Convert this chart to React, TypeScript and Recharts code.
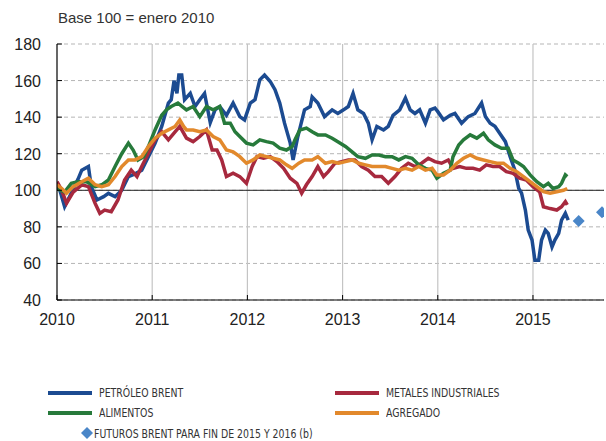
import React from 'react';
import { ComposedChart, Line, Scatter, XAxis, YAxis, CartesianGrid, ReferenceLine } from 'recharts';

// ---- Data (fractional years, index base 100 = Jan 2010) ----
const brentYears = [2010.0,2010.03,2010.08,2010.15,2010.22,2010.26,2010.33,2010.36,2010.42,2010.49,2010.54,2010.61,2010.68,2010.75,2010.82,2010.89,2010.96,2011.03,2011.1,2011.17,2011.2,2011.23,2011.26,2011.28,2011.31,2011.34,2011.4,2011.45,2011.5,2011.55,2011.61,2011.66,2011.71,2011.78,2011.85,2011.92,2011.97,2012.03,2012.08,2012.13,2012.18,2012.24,2012.29,2012.34,2012.39,2012.45,2012.48,2012.53,2012.6,2012.66,2012.68,2012.74,2012.81,2012.89,2012.95,2013.01,2013.06,2013.11,2013.16,2013.22,2013.27,2013.31,2013.36,2013.43,2013.48,2013.53,2013.6,2013.66,2013.71,2013.76,2013.81,2013.87,2013.92,2013.97,2014.0,2014.06,2014.13,2014.18,2014.25,2014.32,2014.39,2014.46,2014.5,2014.55,2014.6,2014.65,2014.71,2014.76,2014.81,2014.85,2014.88,2014.92,2014.95,2014.99,2015.02,2015.06,2015.09,2015.13,2015.16,2015.2,2015.23,2015.27,2015.3,2015.34,2015.37];
const brentValues = [103,100,91,98.5,106,111,113,102,94.7,96.5,98.3,96.5,100,107.5,109,111,118.4,125.7,134.9,147.7,149.5,160,153,163,163,149.5,153,145.8,149.5,153,137,144,145.8,141,147.7,140.3,138.5,147.7,149.5,160.4,163,159.5,155,147.7,136.7,125.8,116.6,129.4,144,145.8,151,147.7,140.3,144,142,144,145.8,153,144,142,136.7,127.6,134.9,133,135,141,144,150.4,144,142,144,136.7,144,145,143,138.5,141,142,136.7,140.3,142,147.7,140.3,136.7,135,131.2,126.6,118.4,111,101,98.4,89.2,78.2,72.8,61.8,61.8,72.8,78.2,76.4,69,72.8,76.4,83.7,87.4,83.7];

const metalsYears = [2010.0,2010.05,2010.1,2010.17,2010.26,2010.33,2010.4,2010.45,2010.5,2010.57,2010.64,2010.71,2010.78,2010.84,2010.89,2010.96,2011.03,2011.1,2011.17,2011.24,2011.29,2011.36,2011.43,2011.5,2011.57,2011.63,2011.68,2011.73,2011.78,2011.85,2011.92,2011.99,2012.05,2012.1,2012.17,2012.24,2012.31,2012.38,2012.45,2012.52,2012.57,2012.62,2012.68,2012.74,2012.8,2012.85,2012.92,2012.99,2013.06,2013.13,2013.2,2013.27,2013.34,2013.41,2013.48,2013.55,2013.62,2013.69,2013.76,2013.83,2013.9,2013.97,2014.04,2014.11,2014.16,2014.23,2014.3,2014.37,2014.44,2014.51,2014.58,2014.65,2014.72,2014.79,2014.86,2014.93,2015.0,2015.07,2015.11,2015.18,2015.25,2015.3,2015.34,2015.36];
const metalsValues = [104.7,100,92.9,99,103,102,92.9,87.4,89.2,88.3,94.7,105.6,111,107.5,113,120.3,127.6,132,127.6,132,135,128.5,126.6,129.4,133,122,122,116.6,107.5,109.3,107.5,103.8,113,118.4,117.5,118.4,115.7,112,106.6,103.8,98.4,103,107.5,113,107.5,110.2,114.8,115.7,116.6,116.6,113,111,107.5,107.5,103.8,107.5,112,114.8,113,114.8,117.5,115.7,114.8,116.6,112,113,112,112,111,113.9,113,113,110.2,109.3,106.6,105.6,102,99.2,91,90,89.2,91,93.8,92];

const foodYears = [2010.0,2010.08,2010.15,2010.22,2010.31,2010.4,2010.47,2010.54,2010.61,2010.68,2010.75,2010.8,2010.85,2010.91,2010.96,2011.03,2011.1,2011.15,2011.2,2011.27,2011.31,2011.36,2011.43,2011.5,2011.57,2011.64,2011.71,2011.76,2011.82,2011.87,2011.92,2011.99,2012.06,2012.13,2012.2,2012.27,2012.34,2012.41,2012.47,2012.5,2012.55,2012.62,2012.68,2012.74,2012.82,2012.89,2012.95,2013.03,2013.1,2013.16,2013.24,2013.31,2013.38,2013.45,2013.52,2013.59,2013.66,2013.73,2013.8,2013.87,2013.94,2013.99,2014.06,2014.13,2014.16,2014.22,2014.27,2014.34,2014.41,2014.48,2014.53,2014.6,2014.67,2014.74,2014.79,2014.85,2014.9,2014.97,2015.04,2015.11,2015.16,2015.21,2015.27,2015.3,2015.34,2015.36];
const foodValues = [101,99,103.8,104.7,104.7,102,103,105.6,113,120,125.8,122,116.6,118.4,123.9,133,141,144,145.8,147.7,146,144,145.8,140.3,145.8,144,145.8,136.7,136.7,132,129.4,125.8,124.8,127.6,126.6,125.8,123,122,123.9,127.6,133,134,132,130.3,130.3,128.5,126.6,124,121,118.4,117.5,119.3,119.3,118.4,118.4,116.6,118.4,117.5,113.9,112,111,106.6,109.3,111,118.4,124.8,127.6,130.3,128.5,131.2,127.6,124.8,123,123,116.6,114.8,113,108.4,104.7,102,103.8,101,102,103.8,108.4,107.5];

const aggregateYears = [2010.0,2010.05,2010.1,2010.17,2010.26,2010.33,2010.4,2010.47,2010.54,2010.61,2010.68,2010.75,2010.82,2010.89,2010.96,2011.03,2011.1,2011.17,2011.24,2011.29,2011.33,2011.36,2011.43,2011.5,2011.57,2011.64,2011.71,2011.78,2011.85,2011.92,2011.99,2012.06,2012.13,2012.2,2012.27,2012.34,2012.41,2012.47,2012.54,2012.6,2012.68,2012.74,2012.82,2012.89,2012.96,2013.03,2013.1,2013.17,2013.24,2013.31,2013.38,2013.45,2013.52,2013.59,2013.66,2013.73,2013.8,2013.87,2013.94,2013.99,2014.06,2014.13,2014.2,2014.27,2014.34,2014.41,2014.48,2014.55,2014.62,2014.69,2014.76,2014.83,2014.9,2014.97,2015.04,2015.11,2015.18,2015.25,2015.32,2015.36];
const aggregateValues = [103,101,98.4,102,104.7,106.6,103,102,103,107.5,113,116.6,116.6,118.4,123.9,128.5,131.2,133,134.9,138.5,134.9,133,133,132,133,129.4,127.6,122,121,118.4,114.8,116.6,119.3,118.4,117.5,116.6,113.9,112,114.8,116.6,116.6,118.4,114.8,115.7,114.8,115.7,116.6,114.8,113.9,113,113,113,112,111,112,111,113,111,112,108.4,108.4,111,114.8,117.5,119.3,117.5,116.6,115.7,114.8,114.8,112,110.2,107.5,104.7,102,99.2,98.4,99.2,100,101];

const futuresYears = [2015.48, 2015.725];
const futuresValues = [83.2, 88];

const yearTicks = [2010, 2011, 2012, 2013, 2014, 2015];
const valueTicks = [40, 60, 80, 100, 120, 140, 160, 180];

const toRows = (ys: number[], vs: number[]) => ys.map((t, i) => ({ t, v: vs[i] }));
const brentData = toRows(brentYears, brentValues);
const metalsData = toRows(metalsYears, metalsValues);
const foodData = toRows(foodYears, foodValues);
const aggregateData = toRows(aggregateYears, aggregateValues);
const futuresData = toRows(futuresYears, futuresValues);

const BLUE = '#1c4b91';
const RED = '#a7293e';
const GREEN = '#277a3b';
const ORANGE = '#e2892c';
const DIAMOND = '#4a86c8';

const FONT = '"Liberation Sans", Arial, Helvetica, sans-serif';
const NARROW = '"Liberation Sans Narrow", "DejaVu Sans Condensed", "Liberation Sans", sans-serif';

const XTick = (props: any) => {
  const { x, y, payload } = props;
  return (
    <g>
      <line x1={x} y1={y} x2={x} y2={y - 5} stroke="#000" strokeWidth={1} />
      <text x={x} y={y + 25} textAnchor="middle" fontSize={16} fill="#222" fontFamily={FONT}>
        {payload.value}
      </text>
    </g>
  );
};

const YTick = (props: any) => {
  const { x, y, payload } = props;
  return (
    <g>
      <line x1={x} y1={y} x2={x + 5} y2={y} stroke="#000" strokeWidth={1} />
      <text x={x - 16} y={y + 6} textAnchor="end" fontSize={16} fill="#222" fontFamily={FONT}>
        {payload.value}
      </text>
    </g>
  );
};

const DiamondShape = (props: any) => {
  const { cx, cy } = props;
  const r = 6;
  return <polygon points={`${cx},${cy - r} ${cx + r},${cy} ${cx},${cy + r} ${cx - r},${cy}`} fill={DIAMOND} />;
};

const legendItems = [
  { label: 'PETRÓLEO BRENT', color: BLUE, left: 48, top: 392.5 },
  { label: 'METALES INDUSTRIALES', color: RED, left: 335, top: 392.5 },
  { label: 'ALIMENTOS', color: GREEN, left: 48, top: 412.5 },
  { label: 'AGREGADO', color: ORANGE, left: 335, top: 412.5 },
];

const legendText: React.CSSProperties = {
  display: 'inline-block',
  fontFamily: NARROW,
  fontSize: 13,
  color: '#333',
  transform: 'scaleX(0.8)',
  transformOrigin: 'left center',
};

export default function App() {
  return (
    <div style={{ position: 'absolute', left: 0, top: 0, width: 606, height: 441, background: '#fff', overflow: 'hidden' }}>
      <div style={{ position: 'absolute', left: 58, top: 9, fontFamily: FONT, fontSize: 15, color: '#333', whiteSpace: 'nowrap' }}>
        Base 100 = enero 2010
      </div>
      <ComposedChart width={606} height={330} margin={{ top: 44, right: 2, bottom: 0, left: 0 }}>
        <CartesianGrid horizontal vertical={false} stroke="#b5b5b5" strokeDasharray="4 3" />
        {yearTicks.slice(1).map((yr) => (
          <ReferenceLine key={yr} x={yr} stroke="#c4c4c4" strokeWidth={1.2} />
        ))}
        <ReferenceLine y={100} stroke="#222" strokeWidth={1} />
        <XAxis
          type="number"
          dataKey="t"
          domain={[2010, 2015.746]}
          ticks={yearTicks}
          allowDataOverflow
          height={30}
          tickSize={0}
          tickMargin={0}
          tickLine={false}
          axisLine={{ stroke: '#000', strokeWidth: 1.2 }}
          tick={XTick}
          interval={0}
        />
        <YAxis
          type="number"
          dataKey="v"
          domain={[40, 180]}
          ticks={valueTicks}
          width={57}
          tickSize={0}
          tickMargin={0}
          tickLine={false}
          axisLine={{ stroke: '#000', strokeWidth: 1.2 }}
          tick={YTick}
          interval={0}
        />
        <Line data={brentData} dataKey="v" type="linear" stroke={BLUE} strokeWidth={3.5} dot={false} isAnimationActive={false} />
        <Line data={metalsData} dataKey="v" type="linear" stroke={RED} strokeWidth={3.5} dot={false} isAnimationActive={false} />
        <Line data={foodData} dataKey="v" type="linear" stroke={GREEN} strokeWidth={3.5} dot={false} isAnimationActive={false} />
        <Line data={aggregateData} dataKey="v" type="linear" stroke={ORANGE} strokeWidth={3.5} dot={false} isAnimationActive={false} />
        <Scatter data={futuresData} dataKey="v" shape={DiamondShape} isAnimationActive={false} />
      </ComposedChart>
      {legendItems.map((it) => (
        <div key={it.label} style={{ position: 'absolute', left: it.left, top: it.top - 8, height: 16, display: 'flex', alignItems: 'center', whiteSpace: 'nowrap' }}>
          <div style={{ width: 44, height: 4, background: it.color }} />
          <span style={{ ...legendText, marginLeft: 7 }}>{it.label}</span>
        </div>
      ))}
      <div style={{ position: 'absolute', left: 81, top: 425, height: 16, display: 'flex', alignItems: 'center', whiteSpace: 'nowrap' }}>
        <svg width={12} height={12}>
          <polygon points="6,0 12,6 6,12 0,6" fill={DIAMOND} />
        </svg>
        <span style={{ ...legendText, marginLeft: 1 }}>FUTUROS BRENT PARA FIN DE 2015 Y 2016 (b)</span>
      </div>
    </div>
  );
}
